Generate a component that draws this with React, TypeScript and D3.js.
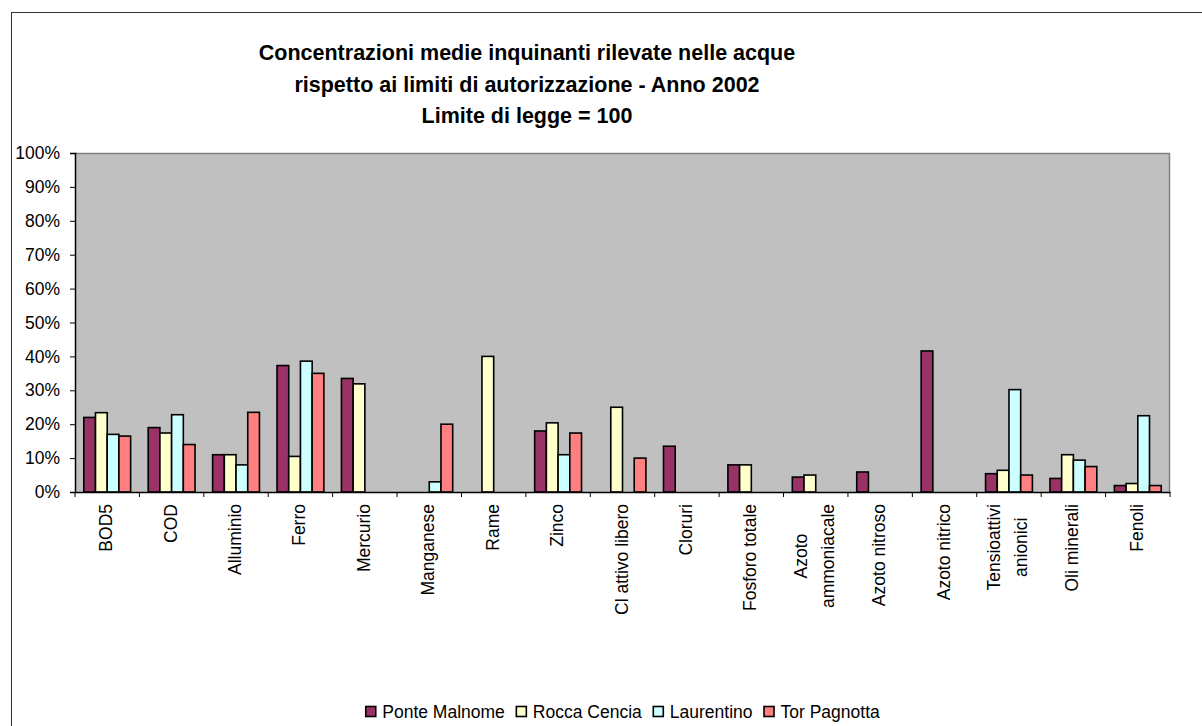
import React, { useEffect, useRef } from 'react'
import * as d3 from 'd3'

// valori in % rispetto al limite di legge (100)
const categories = [
  'BOD5', 'COD', 'Alluminio', 'Ferro', 'Mercurio', 'Manganese', 'Rame', 'Zinco',
  'Cl attivo libero', 'Cloruri', 'Fosforo totale', 'Azoto\nammoniacale', 'Azoto nitroso',
  'Azoto nitrico', 'Tensioattivi\nanionici', 'Oli minerali', 'Fenoli',
]
const seriesNames = ['Ponte Malnome', 'Rocca Cencia', 'Laurentino', 'Tor Pagnotta']
const seriesColors = ['#993366', '#FFFFCC', '#CCFFFF', '#FF8080']

const ponteMalnome = [22.0, 19.0, 11.0, 37.3, 33.5, null, null, 18.0, null, 13.5, 8.0, 4.4, 5.9, 41.6, 5.4, 4.0, 1.9]
const roccaCencia = [23.4, 17.4, 11.0, 10.5, 31.9, null, 40.0, 20.4, 25.0, null, 8.0, 5.0, null, null, 6.4, 11.0, 2.5]
const laurentino = [17.0, 22.8, 8.0, 38.6, null, 3.0, null, 11.0, null, null, null, null, null, null, 30.2, 9.4, 22.5]
const torPagnotta = [16.5, 14.0, 23.5, 35.0, null, 20.0, null, 17.4, 10.0, null, null, null, null, null, 5.0, 7.5, 1.9]

const yTicks = [0, 10, 20, 30, 40, 50, 60, 70, 80, 90, 100]
const titleLines = [
  'Concentrazioni medie inquinanti rilevate nelle acque',
  'rispetto ai limiti di autorizzazione - Anno 2002',
  'Limite di legge = 100',
]

const FONT = '"Liberation Sans", Arial, sans-serif'

const App = () => {
  const ref = useRef<SVGSVGElement>(null)

  useEffect(() => {
    document.body.style.margin = '0'
    const W = 1202
    const H = 726
    const left = 75
    const right = 1170
    const top = 153
    const bottom = 492

    const svg = d3.select(ref.current).attr('width', W).attr('height', H)
    svg.selectAll('*').remove()

    svg.append('rect').attr('width', W).attr('height', H).attr('fill', '#fff')
    // cornice del grafico
    svg.append('rect')
      .attr('x', 11.5).attr('y', 12.5).attr('width', 1300).attr('height', 800)
      .attr('fill', 'none').attr('stroke', '#333').attr('stroke-width', 1)

    const x = d3.scaleBand<string>().domain(categories).range([left, right])
    const y = d3.scaleLinear().domain([0, 100]).range([bottom, top])
    const bw = x.bandwidth() / 5.5
    const xs = d3.scaleBand<number>().domain([0, 1, 2, 3]).range([0, bw * 4])

    // area del grafico
    svg.append('rect')
      .attr('x', left).attr('y', top).attr('width', right - left).attr('height', bottom - top)
      .attr('fill', '#C0C0C0')
    svg.append('path')
      .attr('d', `M${left},${top + 0.5}H${right - 0.5}V${bottom}`)
      .attr('fill', 'none').attr('stroke', '#808080').attr('stroke-width', 1.5)

    const allSeries = [ponteMalnome, roccaCencia, laurentino, torPagnotta]
    allSeries.forEach((vals, s) => {
      svg.append('g')
        .selectAll('rect')
        .data(vals.map((v, i) => ({ v, c: categories[i] })).filter(d => d.v != null))
        .enter()
        .append('rect')
        .attr('x', d => (x(d.c) as number) + bw * 0.75 + (xs(s) as number))
        .attr('y', d => y(d.v as number))
        .attr('width', bw)
        .attr('height', d => bottom - y(d.v as number))
        .attr('fill', seriesColors[s])
        .attr('stroke', '#000')
        .attr('stroke-width', 1.6)
    })

    // asse y
    const yAxis = svg.append('g')
      .attr('transform', `translate(${left}, 0)`)
      .call(d3.axisLeft(y).tickValues(yTicks).tickSize(5).tickPadding(10).tickFormat(d => `${d}%`))
    yAxis.select('.domain').attr('stroke', '#000').attr('stroke-width', 1.5)
    yAxis.selectAll('text').attr('font-family', FONT).attr('font-size', 17.5).attr('fill', '#000')

    // asse x
    const xAxis = svg.append('g')
      .attr('transform', `translate(0, ${bottom})`)
      .call(d3.axisBottom(x).tickSize(0).tickFormat(() => ''))
    xAxis.select('.domain').attr('stroke', '#000').attr('stroke-width', 1.5)
    svg.append('g')
      .selectAll('line')
      .data(d3.range(categories.length + 1))
      .enter()
      .append('line')
      .attr('x1', i => left + i * x.step())
      .attr('x2', i => left + i * x.step())
      .attr('y1', bottom).attr('y2', bottom + 5)
      .attr('stroke', '#000')

    const labels = svg.append('g')
    categories.forEach(c => {
      const lines = c.split('\n')
      const cx = (x(c) as number) + x.bandwidth() / 2
      if (lines.length === 1) {
        labels.append('text')
          .attr('transform', `translate(${cx + 5}, 504) rotate(-90)`)
          .attr('text-anchor', 'end')
          .attr('font-family', FONT).attr('font-size', 17.5)
          .text(c)
      } else {
        const g = labels.append('g')
        const texts = lines.map(l =>
          g.append('text')
            .attr('text-anchor', 'middle')
            .attr('font-family', FONT).attr('font-size', 17.5)
            .text(l))
        const maxLen = d3.max(texts, t => (t.node() as SVGTextElement).getComputedTextLength()) || 0
        texts.forEach((t, k) => {
          const off = (k - (lines.length - 1) / 2) * 27
          t.attr('transform', `translate(${cx + off + 5}, ${504 + maxLen / 2}) rotate(-90)`)
        })
      }
    })

    // titolo
    titleLines.forEach((t, i) => {
      svg.append('text')
        .attr('x', 527).attr('y', 60 + i * 31.5)
        .attr('text-anchor', 'middle')
        .attr('font-family', FONT).attr('font-size', 21.5).attr('font-weight', 'bold')
        .text(t)
    })

    // legenda
    const legend = svg.append('g')
    let lx = 0
    seriesNames.forEach((n, i) => {
      legend.append('rect')
        .attr('x', lx + 0.5).attr('y', 706.5).attr('width', 10).attr('height', 10)
        .attr('fill', seriesColors[i]).attr('stroke', '#000').attr('stroke-width', 1.6)
      const t = legend.append('text')
        .attr('x', lx + 17).attr('y', 718)
        .attr('font-family', FONT).attr('font-size', 17.5)
        .text(n)
      lx += 17 + (t.node() as SVGTextElement).getComputedTextLength() + 11
    })
    const lw = lx - 11
    legend.attr('transform', `translate(${(left + right) / 2 - lw / 2}, 0)`)
  }, [])

  return <svg ref={ref} style={{ display: 'block' }}></svg>
}

export default App
